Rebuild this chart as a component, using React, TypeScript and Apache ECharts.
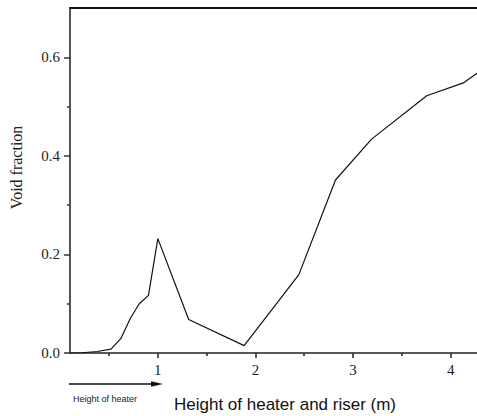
import React, { useEffect, useRef } from "react";
import * as echarts from "echarts";

const heights = [0.1, 0.22, 0.38, 0.52, 0.62, 0.72, 0.81, 0.904, 1.0, 1.316, 1.884, 2.445, 2.82, 3.19, 3.755, 4.13, 4.3];
const voidFraction = [0, 0.0005, 0.003, 0.008, 0.029, 0.071, 0.1, 0.117, 0.232, 0.068, 0.015, 0.159, 0.351, 0.434, 0.522, 0.548, 0.572];
const xMajorTicks = [1, 2, 3, 4];
const xMinorTicks = [0.5, 1.5, 2.5, 3.5];
const yMajorTicks = [0, 0.2, 0.4, 0.6];
const yMinorTicks = [0.1, 0.3, 0.5];

const SERIF = "Liberation Serif";
const SANS = "Liberation Sans";

export default function App() {
  const ref = useRef<HTMLDivElement>(null);
  useEffect(() => {
    if (!ref.current) return;
    const chart = echarts.init(ref.current, undefined, { renderer: "svg" });
    const axisLineStyle = { color: "#222", width: 1.5 };
    const rich = { t: { color: "#222", fontFamily: SERIF, fontSize: 15 } };
    chart.setOption({
      animation: false,
      textStyle: { fontFamily: SERIF },
      grid: { left: 69, right: 0, top: 8, bottom: 63 },
      xAxis: [
        {
          type: "value",
          min: 0.1,
          max: 4.27,
          position: "bottom",
          axisLine: { show: true, onZero: false, lineStyle: axisLineStyle },
          axisTick: { show: true, inside: false, length: 5, customValues: xMajorTicks, lineStyle: { color: "#222", width: 1.5 } },
          axisLabel: {
            show: true,
            customValues: xMajorTicks,
            margin: 9,
            color: "#222",
            fontFamily: SERIF,
            fontSize: 15,
            formatter: (v: number) => "{t|" + String(v) + "}",
            rich,
          },
          splitLine: { show: false },
        },
        {
          type: "value",
          min: 0.1,
          max: 4.27,
          position: "bottom",
          axisLine: { show: false, onZero: false },
          axisTick: { show: true, inside: false, length: 3, customValues: xMinorTicks, lineStyle: { color: "#222", width: 1.5 } },
          axisLabel: { show: false },
          splitLine: { show: false },
        },
        {
          type: "value",
          min: 0.1,
          max: 4.27,
          position: "top",
          axisLine: { show: true, onZero: false, lineStyle: { color: "#111", width: 2 } },
          axisTick: { show: false },
          axisLabel: { show: false },
          splitLine: { show: false },
        },
      ],
      yAxis: [
        {
          type: "value",
          min: 0,
          max: 0.7,
          position: "left",
          name: "Void fraction",
          nameLocation: "middle",
          nameGap: 46,
          nameTextStyle: { fontFamily: SERIF, fontSize: 16, color: "#222", padding: [0, 0, 0, 26] },
          axisLine: { show: true, onZero: false, lineStyle: { color: "#555", width: 2 } },
          axisTick: { show: true, inside: false, length: 6, customValues: yMajorTicks, lineStyle: { color: "#333", width: 1.5 } },
          axisLabel: {
            show: true,
            customValues: yMajorTicks,
            margin: 10,
            color: "#222",
            fontFamily: SERIF,
            fontSize: 15,
            formatter: (v: number) => "{t|" + v.toFixed(1) + "}",
            rich,
          },
          splitLine: { show: false },
        },
        {
          type: "value",
          min: 0,
          max: 0.7,
          position: "left",
          axisLine: { show: false, onZero: false },
          axisTick: { show: true, inside: false, length: 3, customValues: yMinorTicks, lineStyle: { color: "#333", width: 1.5 } },
          axisLabel: { show: false },
          splitLine: { show: false },
        },
      ],
      series: [
        {
          type: "line",
          xAxisIndex: 0,
          yAxisIndex: 0,
          data: heights.map((h, i) => [h, voidFraction[i]]),
          showSymbol: false,
          symbol: "none",
          lineStyle: { color: "#111", width: 1.2 },
          clip: true,
        },
      ],
      graphic: [
        {
          type: "line",
          shape: { x1: 69, y1: 384, x2: 156, y2: 384 },
          style: { stroke: "#111", lineWidth: 1.3 },
        },
        {
          type: "polygon",
          shape: { points: [[151, 381.3], [163, 384], [151, 386.7]] },
          style: { fill: "#111" },
        },
        {
          type: "text",
          x: 73,
          y: 399,
          style: { text: "Height of heater", fontFamily: SANS, fontSize: 9, fill: "#222", verticalAlign: "middle" },
        },
        {
          type: "text",
          x: 285,
          y: 404,
          style: { text: "Height of heater and riser (m)", fontFamily: SANS, fontSize: 17, fill: "#111", align: "center", verticalAlign: "middle" },
        },
      ],
    });
    return () => chart.dispose();
  }, []);
  return <div ref={ref} style={{ width: 477, height: 416, position: "absolute", left: 0, top: 0 }} />;
}
